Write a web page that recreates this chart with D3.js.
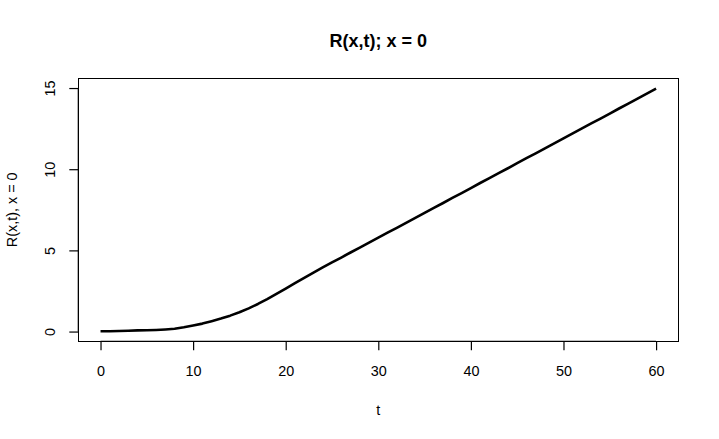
<!DOCTYPE html>
<html>
<head>
<meta charset="utf-8">
<script src="https://cdn.jsdelivr.net/npm/d3@7"></script>
<style>
  body { margin: 0; background: #fff; }
  svg text { font-family: "Liberation Sans", Arial, sans-serif; fill: #000; }
</style>
</head>
<body>
<svg id="chart" width="719" height="439"></svg>
<script>
// R(x,t) at x = 0, one value per unit of t
var tValues = d3.range(0, 61);
var rValues = [
  0.02, 0.02, 0.03, 0.05, 0.07, 0.08, 0.10, 0.13, 0.17, 0.26,
  0.37, 0.49, 0.64, 0.80, 0.98, 1.19, 1.43, 1.70, 2.00, 2.32,
  2.65, 2.98, 3.31, 3.63, 3.95, 4.26, 4.56, 4.87, 5.17, 5.48,
  5.78, 6.09, 6.39, 6.70, 7.00, 7.31, 7.62, 7.92, 8.23, 8.53,
  8.84, 9.15, 9.45, 9.76, 10.06, 10.37, 10.68, 10.98, 11.29, 11.59,
  11.90, 12.21, 12.51, 12.82, 13.12, 13.43, 13.74, 14.04, 14.35, 14.65,
  14.96
];
var xTicks = [0, 10, 20, 30, 40, 50, 60];
var yTicks = [0, 5, 10, 15];

var svg = d3.select('#chart');
var plotL = 78.3, plotR = 678.3, plotT = 78.3, plotB = 341.3;
var tickLen = 9;

// R pads the data range by 4% on each side
var x = d3.scaleLinear().domain([-2.4, 62.4]).range([plotL, plotR]);
var y = d3.scaleLinear().domain([-0.6, 15.6]).range([plotB, plotT]);

var pts = tValues.map(function(t, i) { return [t, rValues[i]]; });

svg.append('path')
    .datum(pts)
    .attr('fill', 'none')
    .attr('stroke', '#000')
    .attr('stroke-width', 2.6)
    .attr('stroke-linejoin', 'round')
    .attr('d', d3.line()
        .x(function(d) { return x(d[0]); })
        .y(function(d) { return y(d[1]); }));

// box
svg.append('rect')
    .attr('x', plotL).attr('y', plotT)
    .attr('width', plotR - plotL).attr('height', plotB - plotT)
    .attr('fill', 'none').attr('stroke', '#000').attr('stroke-width', 1.2)
    .attr('shape-rendering', 'crispEdges');

// x axis
var xAxis = svg.append('g')
    .attr('transform', 'translate(0,' + plotB + ')')
    .call(d3.axisBottom(x).tickValues(xTicks).tickSize(tickLen).tickPadding(0).tickFormat(d3.format('d')));
xAxis.select('.domain').attr('d', 'M' + x(0) + ',0H' + x(60)).attr('stroke-width', 1.2);
xAxis.selectAll('.tick line').attr('stroke-width', 1.2);
xAxis.selectAll('.tick text')
    .attr('y', 35).attr('dy', null)
    .style('font-size', '14.4px');

// y axis, labels parallel to the axis as in R
var yAxis = svg.append('g')
    .attr('transform', 'translate(' + plotL + ',0)')
    .call(d3.axisLeft(y).tickValues(yTicks).tickSize(tickLen).tickFormat(d3.format('d')));
yAxis.select('.domain').attr('d', 'M0,' + y(0) + 'V' + y(15)).attr('stroke-width', 1.2);
yAxis.selectAll('.tick line').attr('stroke-width', 1.2);
yAxis.selectAll('.tick text')
    .attr('x', null).attr('dy', null)
    .attr('text-anchor', 'middle')
    .attr('transform', 'translate(' + (55 - plotL) + ',0) rotate(-90)')
    .style('font-size', '14.4px');

svg.selectAll('.tick text').style('font-family', '"Liberation Sans", Arial, sans-serif');

// titles
svg.append('text')
    .attr('x', (plotL + plotR) / 2).attr('y', 47)
    .attr('text-anchor', 'middle')
    .style('font-size', '18px').style('font-weight', 'bold')
    .text('R(x,t); x = 0');

svg.append('text')
    .attr('x', (plotL + plotR) / 2).attr('y', 415)
    .attr('text-anchor', 'middle')
    .style('font-size', '14.4px')
    .text('t');

svg.append('text')
    .attr('transform', 'translate(17.3,' + (plotT + plotB) / 2 + ') rotate(-90)')
    .attr('text-anchor', 'middle')
    .style('font-size', '14.4px')
    .text('R(x,t), x = 0');
</script>
</body>
</html>
